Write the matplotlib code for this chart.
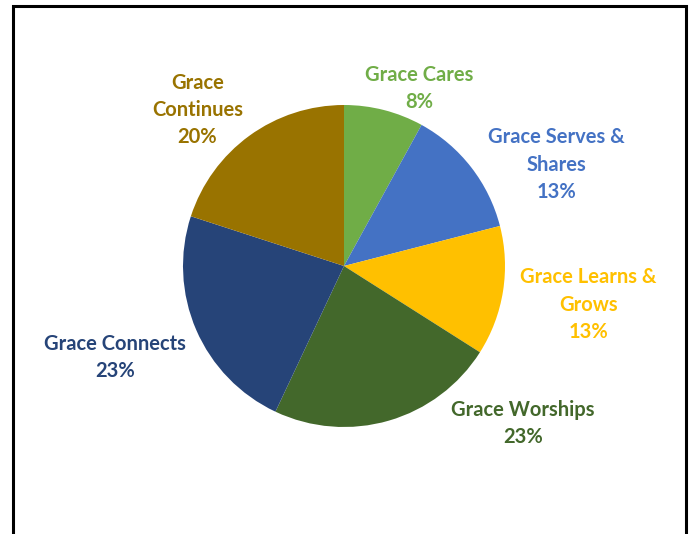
import matplotlib.pyplot as plt
from matplotlib.patches import Rectangle

# data
labels = ['Grace Cares', 'Grace Serves &\nShares', 'Grace Learns &\nGrows',
          'Grace Worships', 'Grace Connects', 'Grace\nContinues']
values = [8, 13, 13, 23, 23, 20]
colors = ['#70AD47', '#4472C4', '#FFC000', '#43682B', '#264478', '#997300']

# label centres in pie-radius units (layout only)
label_pos = [(0.47, 1.10), (1.32, 0.63), (1.52, -0.24),
             (1.11, -0.98), (-1.42, -0.57), (-0.91, 0.97)]

W, H = 691, 534
fig = plt.figure(figsize=(W / 100, H / 100), dpi=100)

# pie centre (344, 266) px, radius 161 px
cx, cy, r = 344, 266, 161
ax = fig.add_axes([(cx - r) / W, (H - cy - r) / H, 2 * r / W, 2 * r / H])
wedges, _ = ax.pie(values, colors=colors, startangle=90, counterclock=False,
                   radius=1, wedgeprops=dict(linewidth=0))
ax.set_xlim(-1, 1)
ax.set_ylim(-1, 1)
ax.set_aspect('equal')
ax.axis('off')

for lab, val, col, (x, y) in zip(labels, values, colors, label_pos):
    ax.text(x, y, f'{lab}\n{val}%', ha='center', va='center', color=col,
            fontsize=14.5, fontweight='bold', family='Lato', linespacing=1.45,
            clip_on=False)

# outer frame
fig.patches.append(Rectangle((13.5 / W, -0.05), (686 - 13.5) / W, 1.05 - 5.5 / H,
                             transform=fig.transFigure, fill=False,
                             edgecolor='black', linewidth=2.2))

fig.savefig('out.png', dpi=100)
